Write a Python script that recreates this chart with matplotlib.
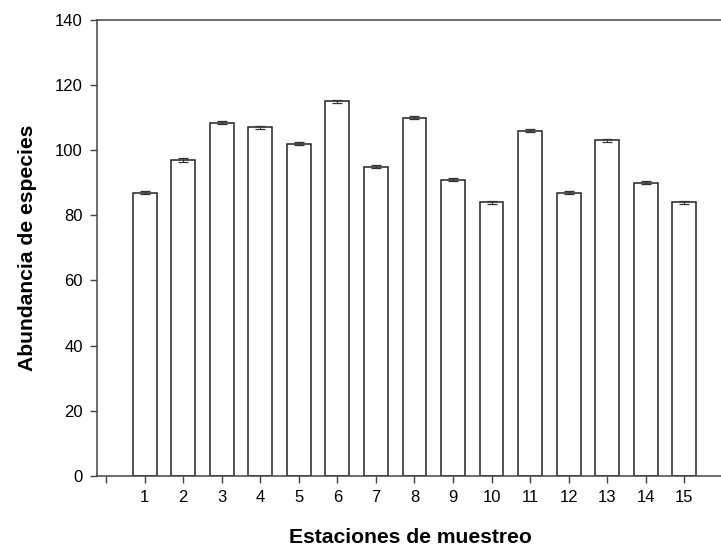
import numpy as np
import matplotlib.pyplot as plt

plt.rcParams['font.family'] = ['Liberation Sans', 'DejaVu Sans']

# datos
estaciones = np.arange(1, 16)
abundancia = [87, 97, 108.5, 107, 102, 115, 95, 110, 91, 84, 106, 87, 103, 90, 84]
error = [0.5] * 15
ticks_y = [0, 20, 40, 60, 80, 100, 120, 140]

fig = plt.figure(figsize=(7.21, 5.49), dpi=100)
ax = fig.add_axes([0.134, 0.1335, 0.871, 0.83])

ax.bar(estaciones, abundancia, width=0.62, color='white', edgecolor='#222222',
       linewidth=1.1, yerr=error, capsize=3.5,
       error_kw=dict(ecolor='#333333', elinewidth=0.8, capthick=0.9))

ax.set_xlim(-0.25, 16.05)
ax.set_ylim(0, 140)
ax.set_yticks(ticks_y)
ax.set_xticks(np.arange(0, 17))
ax.set_xticklabels([''] + [str(e) for e in estaciones] + [''])

for s in ['left', 'bottom', 'top']:
    ax.spines[s].set_color('#444444')
    ax.spines[s].set_linewidth(1.1)
ax.spines['right'].set_visible(False)

ax.tick_params(axis='both', direction='out', length=5, width=1,
               color='#444444', labelsize=12, pad=5)

ax.set_xlabel('Estaciones de muestreo', fontsize=15.2, fontweight='bold', labelpad=17)
ax.set_ylabel('Abundancia de especies', fontsize=15.2, fontweight='bold', labelpad=13)

plt.savefig('out.png', dpi=100)
plt.close()
